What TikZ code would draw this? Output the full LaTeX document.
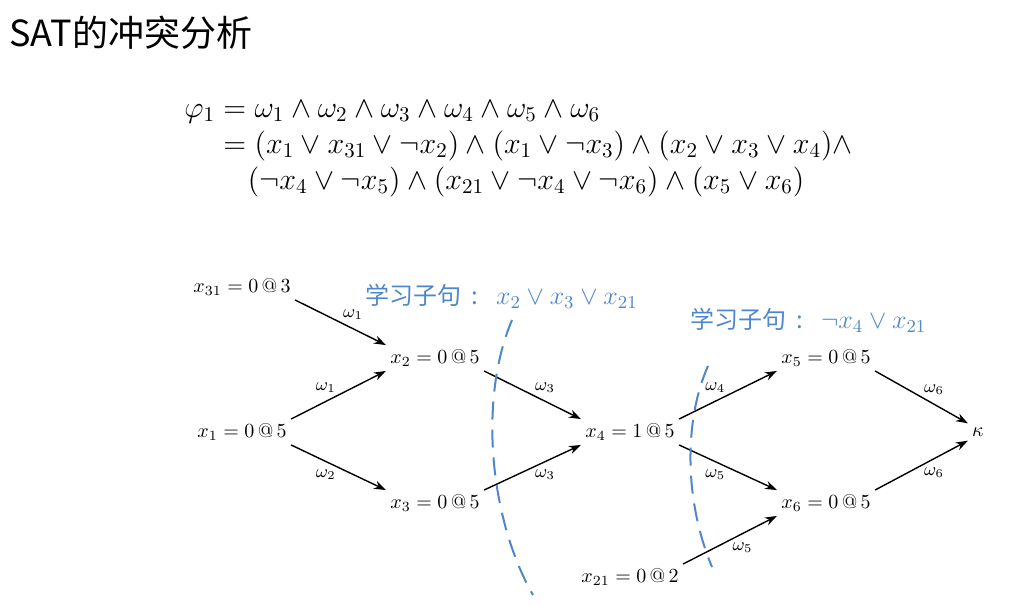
\RequirePackage{fix-cm}
\documentclass[tikz,border=0pt]{standalone}
\usepackage{amsmath}
\usepackage{fontspec}
\usepackage{tikz}
\usetikzlibrary{arrows.meta}
\newfontfamily\cjk{Noto Sans CJK SC}
\definecolor{cutblue}{RGB}{79,134,204}

\tikzset{
  lit/.style={inner sep=2pt},
  imp/.style={->,>={Stealth[length=6pt,width=4.2pt]},line width=0.7pt},
  why/.style={font=\small,inner sep=1pt},
  cut/.style={cutblue,line width=1pt,dash pattern=on 9pt off 5pt},
  learnt/.style={cutblue,font=\fontsize{12}{14}\selectfont,anchor=west,inner sep=0}
}
\newcommand{\clause}[1]{{\cjk 学习子句}\hspace{5pt}{\cjk :}\hspace{9pt}{\fontsize{13}{15}\selectfont$#1$}}

\begin{document}
\begin{tikzpicture}[x=0.5pt,y=-0.5pt]
\useasboundingbox (0,0) rectangle (1019,606);
\node[anchor=west,font=\cjk\fontsize{18}{20}\selectfont,inner sep=0] (title) at (9,33) {SAT的冲突分析};
\node[anchor=north west,font=\fontsize{15}{17.9}\selectfont,inner sep=0] (phi) at (184,92)
{$\setlength{\jot}{0pt}\begin{aligned}
\varphi_1 &= \omega_1 \wedge \omega_2 \wedge \omega_3 \wedge \omega_4 \wedge \omega_5 \wedge \omega_6\\
&= (x_1 \vee x_{31} \vee \neg x_2) \wedge (x_1 \vee \neg x_3) \wedge (x_2 \vee x_3 \vee x_4) \wedge\\
&\hphantom{{}={}}\mkern-4mu(\neg x_4 \vee \neg x_5) \wedge (x_{21} \vee \neg x_4 \vee \neg x_6) \wedge (x_5 \vee x_6)
\end{aligned}$};
% implication graph
\node[lit] (x31) at (242,287) {$x_{31} = 0\,@\,3$};
\node[lit] (x1) at (242,432) {$x_1 = 0\,@\,5$};
\node[lit] (x2) at (435,358) {$x_2 = 0\,@\,5$};
\node[lit] (x3) at (435,503) {$x_3 = 0\,@\,5$};
\node[lit] (x4) at (630,432) {$x_4 = 1\,@\,5$};
\node[lit] (x5) at (826,358) {$x_5 = 0\,@\,5$};
\node[lit] (x6) at (826,503) {$x_6 = 0\,@\,5$};
\node[lit] (x21) at (630,577) {$x_{21} = 0\,@\,2$};
\node[lit] (k) at (978,432) {$\kappa$};
\draw[imp] (x31.south east) -- node[why,above right]{$\omega_1$} (x2.north west);
\draw[imp] (x1.north east) -- node[why,above left]{$\omega_1$} (x2.south west);
\draw[imp] (x1.south east) -- node[why,below left]{$\omega_2$} (x3.north west);
\draw[imp] (x2.south east) -- node[why,above right]{$\omega_3$} (x4.north west);
\draw[imp] (x3.north east) -- node[why,below right]{$\omega_3$} (x4.south west);
\draw[imp] (x4.north east) -- node[why,above left]{$\omega_4$} (x5.south west);
\draw[imp] (x4.south east) -- node[why,below left]{$\omega_5$} (x6.north west);
\draw[imp] (x21.north east) -- node[why,below right]{$\omega_5$} (x6.south west);
\draw[imp] (x5.south east) -- node[why,above right]{$\omega_6$} (k.north west);
\draw[imp] (x6.north east) -- node[why,below right]{$\omega_6$} (k.south west);
% cuts
\draw[cut] (512,320) .. controls (478,400) and (490,520) .. (533,595);
\draw[cut] (708,366) .. controls (684,420) and (684,500) .. (712,567);
\node[learnt] (c1) at (365,296) {\clause{x_2 \vee x_3 \vee x_{21}}};
\node[learnt] (c2) at (690,320) {\clause{\neg x_4 \vee x_{21}}};
\end{tikzpicture}
\end{document}
